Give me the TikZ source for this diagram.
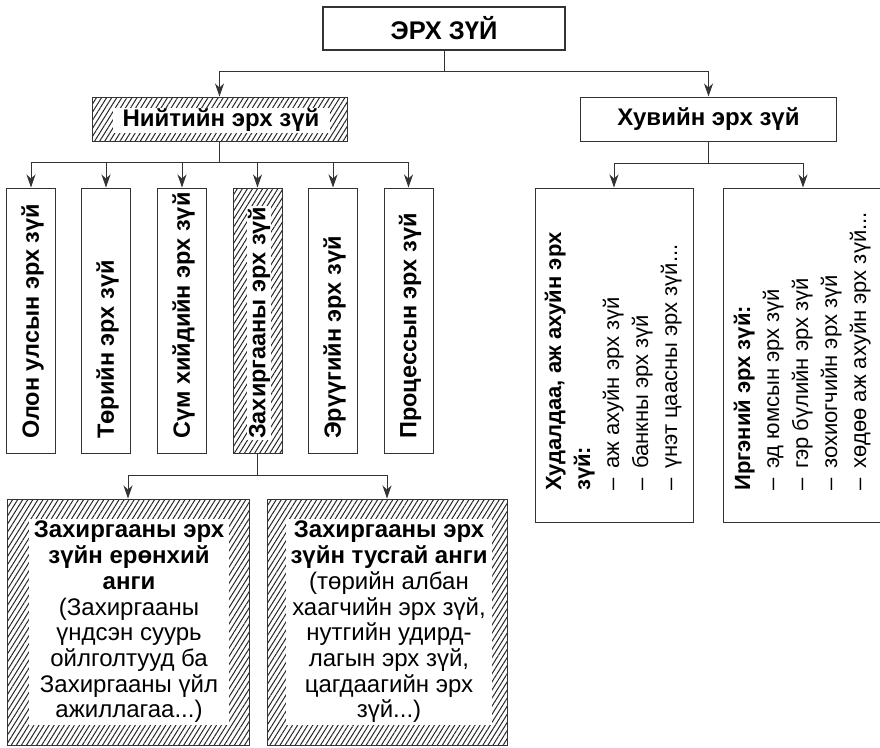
\documentclass[tikz,border=0pt]{standalone}
\usepackage{fontspec}
\setmainfont{Liberation Sans}
\usetikzlibrary{arrows.meta,patterns.meta}

% dash with a fixed indent for list items
\newcommand{\itemdash}{\makebox[22pt][l]{–}}

\begin{document}
\begin{tikzpicture}[x=1pt,y=-1pt,
  conn/.style={draw=black!80, line width=1pt},
  arr/.style={conn, -{Stealth[length=13pt,width=9pt,inset=4pt]}},
  box/.style={rectangle, draw=black!80, line width=1pt, fill=white, inner sep=0pt},
  hatch/.style={rectangle, draw=black!80, line width=1pt, inner sep=0pt,
    pattern={Lines[angle=58,distance=4.3pt,line width=1pt]}, pattern color=black!85},
  lbl/.style={font=\fontsize{24}{28}\selectfont\bfseries},
  vtext/.style={rotate=90, anchor=west, inner sep=0pt,
    font=\fontsize{23.5}{28}\selectfont\bfseries},
  listtext/.style={rotate=90, anchor=north west, align=left, inner sep=0pt,
    font=\fontsize{22}{29}\selectfont},
  blocktext/.style={fill=white, inner sep=0pt, align=center,
    font=\fontsize{24}{25.7}\selectfont}
]
\useasboundingbox (0,0) rectangle (880,747);

% root
\node[box, line width=2pt, minimum width=242pt, minimum height=43pt,
  font=\fontsize{25.5}{30}\selectfont\bfseries] (root) at (444,28.5) {ЭРХ ЗҮЙ};

% second level
\node[hatch, minimum width=255pt, minimum height=44pt] (pub) at (219.5,119) {};
\node[fill=white, inner sep=0pt, minimum width=217pt, minimum height=25pt, lbl] (pubtxt) at (221,120.5) {Нийтийн эрх зүй};
\node[box, minimum width=256pt, minimum height=44pt, lbl] (priv) at (708.5,119) {Хувийн эрх зүй};

% branches of public law
\node[box, minimum width=49pt, minimum height=265pt] (v1) at (31,320.5) {};
\node[box, minimum width=49pt, minimum height=265pt] (v2) at (106,320.5) {};
\node[box, minimum width=49pt, minimum height=265pt] (v3) at (182,320.5) {};
\node[hatch, minimum width=49pt, minimum height=265pt] (v4) at (257.5,320.5) {};
\node[box, minimum width=49pt, minimum height=265pt] (v5) at (333,320.5) {};
\node[box, minimum width=49pt, minimum height=265pt] (v6) at (408.5,320.5) {};

\node[vtext] (v1t) at (32.5,439) {Олон улсын эрх зүй};
\node[vtext] (v2t) at (107.5,439) {Төрийн эрх зүй};
\node[vtext] (v3t) at (183.5,439) {Сүм хийдийн эрх зүй};
\node[vtext, fill=white, inner sep=1pt] (v4t) at (259,440) {Захиргааны эрх зүй};
\node[vtext] (v5t) at (334.5,439) {Эрүүгийн эрх зүй};
\node[vtext] (v6t) at (410,439) {Процессын эрх зүй};

% administrative law parts
\node[hatch, minimum width=242pt, minimum height=246pt] (gen) at (128,622) {};
\node[blocktext, minimum width=200pt, minimum height=206pt] (gentxt) at (129,622)
  {\textbf{Захиргааны эрх}\\\textbf{зүйн ерөнхий}\\\textbf{анги}\\(Захиргааны\\үндсэн суурь\\ойлголтууд ба\\Захиргааны үйл\\ажиллагаа...)};
\node[hatch, minimum width=240pt, minimum height=246pt] (spec) at (387,622) {};
\node[blocktext, minimum width=206pt, minimum height=206pt] (spectxt) at (389,622)
  {\textbf{Захиргааны эрх}\\\textbf{зүйн тусгай анги}\\(төрийн албан\\хаагчийн эрх зүй,\\нутгийн удирд-\\лагын эрх зүй,\\цагдаагийн эрх\\зүй...)};

% branches of private law
\node[box, minimum width=158pt, minimum height=334pt] (trade) at (614,355) {};
\node[listtext] (tradetxt) at (544.5,491)
  {\textbf{Худалдаа, аж ахуйн эрх}\\\textbf{зүй:}\\\itemdash аж ахуйн эрх зүй\\\itemdash банкны эрх зүй\\\itemdash үнэт цаасны эрх зүй...};
\node[box, minimum width=160pt, minimum height=334pt] (civ) at (803,355) {};
\node[listtext] (civtxt) at (733.5,491)
  {\textbf{Иргэний эрх зүй:}\\\itemdash эд юмсын эрх зүй\\\itemdash гэр бүлийн эрх зүй\\\itemdash зохиогчийн эрх зүй\\\itemdash хөдөө аж ахуйн эрх зүй...};

% connectors
\draw[arr] (root.south) -- ++(0,20) -| (pub.north);
\draw[arr] (root.south) -- ++(0,20) -| (priv.north);

\foreach \v in {v1,v2,v3,v4,v5,v6}
  \draw[arr] (pub.south) -- ++(0,21) -| (\v.north);

\draw[arr] (v4.south) -- ++(0,22) -| (gen.north);
\draw[arr] (v4.south) -- ++(0,22) -| (spec.north);

\draw[arr] (priv.south) -- ++(0,22) -| (trade.north);
\draw[arr] (priv.south) -- ++(0,22) -| (civ.north);
\end{tikzpicture}
\end{document}
